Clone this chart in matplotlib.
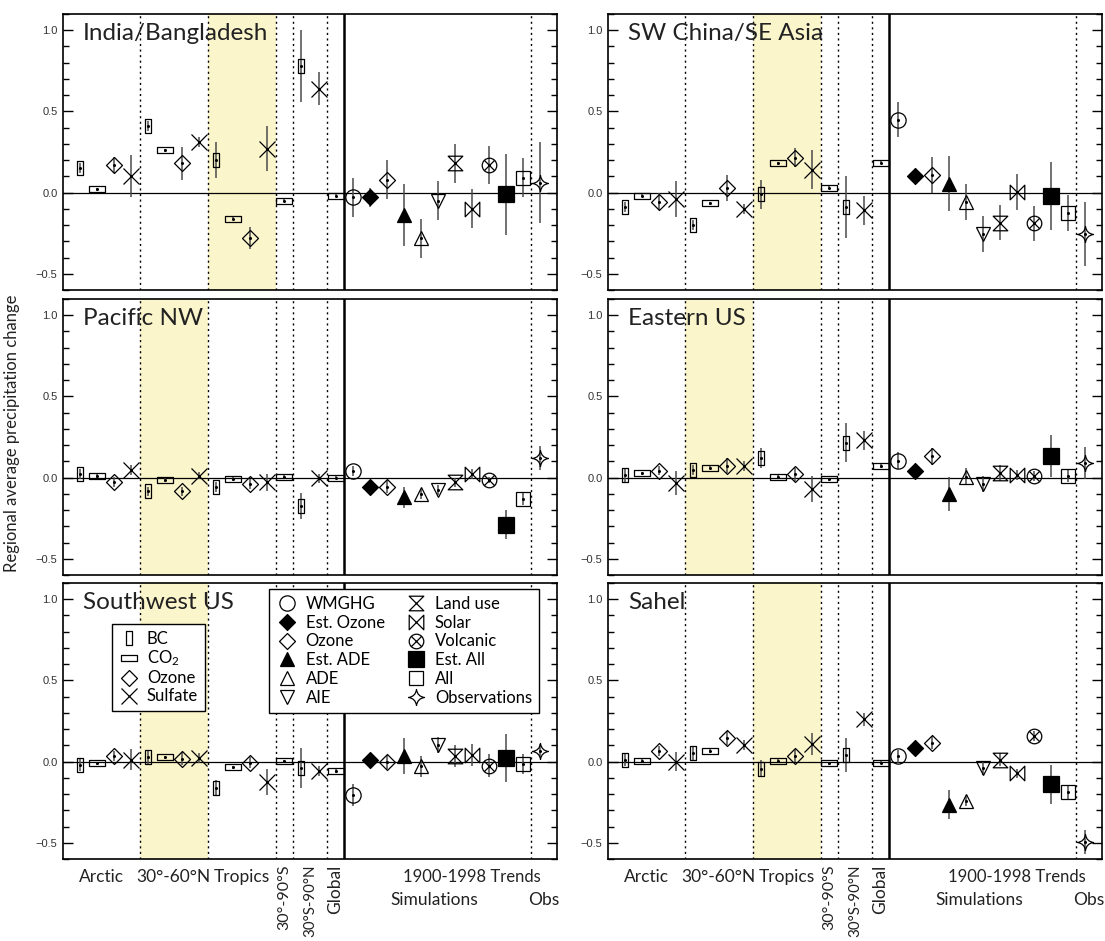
import numpy as np
import matplotlib
matplotlib.use('Agg')
import matplotlib.pyplot as plt
from matplotlib.path import Path
from matplotlib.lines import Line2D
from matplotlib.ticker import MultipleLocator, FixedLocator

plt.rcParams['font.family'] = ['Lato', 'DejaVu Sans']
plt.rcParams['mathtext.fontset'] = 'custom'
plt.rcParams['mathtext.rm'] = 'Lato'
plt.rcParams['mathtext.it'] = 'Lato:italic'

# what sits in each of the 28 slots of a panel
kinds = ['BC', 'CO2', 'Ozone', 'Sulfate'] * 3 + ['CO2', 'BC', 'Sulfate', 'CO2',
         'WMGHG', 'Est. Ozone', 'Ozone', 'Est. ADE', 'ADE', 'AIE',
         'Land use', 'Solar', 'Volcanic', 'Est. All', 'All', 'Observations']

# values (mean, half length of the bar)
india_val = [0.15, 0.02, 0.17, 0.10, 0.41, 0.26, 0.18, 0.31, 0.20, -0.16, -0.28, 0.27, -0.05, 0.78,
             0.64, -0.02, -0.03, -0.03, 0.08, -0.14, -0.28, -0.05, 0.18, -0.10, 0.17, -0.01, 0.09, 0.06]
india_err = [0.03, 0.01, 0.05, 0.13, 0.03, 0.01, 0.10, 0.03, 0.11, 0.01, 0.07, 0.14, 0.01, 0.22,
             0.10, 0.01, 0.12, 0.06, 0.12, 0.19, 0.12, 0.12, 0.12, 0.12, 0.12, 0.25, 0.12, 0.25]

swchina_val = [-0.09, -0.02, -0.055, -0.04, -0.20, -0.065, 0.03, -0.10, -0.01, 0.18, 0.215, 0.14, 0.03, -0.09,
               -0.11, 0.185, 0.45, 0.105, 0.11, 0.055, -0.06, -0.255, -0.185, 0.005, -0.19, -0.02, -0.125, -0.255]
swchina_err = [0.03, 0.01, 0.05, 0.11, 0.03, 0.01, 0.08, 0.03, 0.09, 0.01, 0.06, 0.12, 0.01, 0.19,
               0.09, 0.01, 0.11, 0.04, 0.11, 0.17, 0.11, 0.11, 0.11, 0.11, 0.11, 0.21, 0.11, 0.195]

pacnw_val = [0.02, 0.01, -0.025, 0.045, -0.085, -0.015, -0.085, 0.012, -0.06, -0.008, -0.04, -0.03, 0.005, -0.175,
             -0.005, 0.0, 0.04, -0.06, -0.055, -0.12, -0.10, -0.075, -0.03, 0.02, -0.015, -0.29, -0.13, 0.12]
pacnw_err = [0.03, 0.01, 0.03, 0.03, 0.03, 0.01, 0.03, 0.02, 0.03, 0.01, 0.03, 0.05, 0.01, 0.08,
             0.03, 0.01, 0.03, 0.02, 0.04, 0.065, 0.03, 0.03, 0.03, 0.03, 0.02, 0.09, 0.04, 0.075]

eastus_val = [0.015, 0.027, 0.043, -0.035, 0.047, 0.06, 0.074, 0.072, 0.12, 0.006, 0.022, -0.07, -0.01, 0.215,
              0.23, 0.072, 0.105, 0.043, 0.13, -0.10, 0.006, -0.04, 0.027, 0.018, 0.008, 0.135, 0.01, 0.09]
eastus_err = [0.04, 0.01, 0.03, 0.075, 0.03, 0.01, 0.045, 0.03, 0.06, 0.01, 0.04, 0.078, 0.01, 0.12,
              0.06, 0.01, 0.05, 0.02, 0.055, 0.105, 0.05, 0.05, 0.05, 0.03, 0.03, 0.13, 0.04, 0.098]

swus_val = [-0.018, -0.01, 0.035, 0.012, 0.027, 0.027, 0.017, 0.02, -0.165, -0.035, -0.006, -0.125, 0.002, -0.04,
            -0.06, -0.058, -0.205, 0.008, -0.002, 0.035, -0.028, 0.10, 0.035, 0.04, -0.025, 0.022, -0.015, 0.068]
swus_err = [0.04, 0.01, 0.03, 0.065, 0.04, 0.01, 0.04, 0.03, 0.05, 0.01, 0.035, 0.08, 0.01, 0.125,
            0.03, 0.01, 0.07, 0.02, 0.045, 0.11, 0.065, 0.05, 0.07, 0.07, 0.07, 0.15, 0.06, 0.04]

sahel_val = [0.012, 0.006, 0.065, 0.0, 0.05, 0.065, 0.145, 0.10, -0.043, 0.006, 0.035, 0.108, -0.01, 0.043,
             0.26, -0.006, 0.033, 0.082, 0.116, -0.265, -0.245, -0.04, 0.01, -0.073, 0.157, -0.14, -0.19, -0.495]
sahel_err = [0.04, 0.01, 0.03, 0.06, 0.04, 0.01, 0.045, 0.03, 0.05, 0.01, 0.04, 0.07, 0.01, 0.105,
             0.04, 0.01, 0.04, 0.02, 0.04, 0.09, 0.03, 0.04, 0.04, 0.03, 0.03, 0.12, 0.04, 0.075]

region_names = ['India/Bangladesh', 'SW China/SE Asia', 'Pacific NW', 'Eastern US', 'Southwest US', 'Sahel']
region_vals = [india_val, swchina_val, pacnw_val, eastus_val, swus_val, sahel_val]
region_errs = [india_err, swchina_err, pacnw_err, eastus_err, swus_err, sahel_err]
shaded_band = ['Tropics', 'Tropics', '30-60N', '30-60N', '30-60N', 'Tropics']

legend1_labels = ['BC', 'CO$_2$', 'Ozone', 'Sulfate']
legend1_kinds = ['BC', 'CO2', 'Ozone', 'Sulfate']
legend2_kinds = ['WMGHG', 'Est. Ozone', 'Ozone', 'Est. ADE', 'ADE', 'AIE',
                 'Land use', 'Solar', 'Volcanic', 'Est. All', 'All', 'Observations']


# marker shapes
def closed(verts):
    return Path(verts + [verts[0]], [Path.MOVETO] + [Path.LINETO] * (len(verts) - 1) + [Path.CLOSEPOLY])


bc_m = closed([(-0.25, -0.5), (0.25, -0.5), (0.25, 0.5), (-0.25, 0.5)])
co2_m = closed([(-0.5, -0.2), (0.5, -0.2), (0.5, 0.2), (-0.5, 0.2)])
dia_m = closed([(0, -0.5), (0.5, 0), (0, 0.5), (-0.5, 0)])
hour_m = closed([(-0.5, 0.5), (0.5, 0.5), (-0.5, -0.5), (0.5, -0.5)])
bow_m = closed([(-0.5, 0.5), (-0.5, -0.5), (0.5, 0.5), (0.5, -0.5)])
volc_m = Path.make_compound_path(Path.unit_circle(),
                                 Path([(-0.707, -0.707), (0.707, 0.707)], [Path.MOVETO, Path.LINETO]),
                                 Path([(-0.707, 0.707), (0.707, -0.707)], [Path.MOVETO, Path.LINETO]))
c = 0.06
star_m = Path([(0, 0.5), (c, c), (0.5, 0), (c, -c), (0, -0.5), (-c, -c), (-0.5, 0), (-c, c), (0, 0.5), (0, 0.5)],
              [Path.MOVETO] + [Path.CURVE3] * 8 + [Path.CLOSEPOLY])

styles = {
    'BC': dict(marker=bc_m, ms=9.5, mfc='none'),
    'CO2': dict(marker=co2_m, ms=11, mfc='none'),
    'Ozone': dict(marker=dia_m, ms=11.5, mfc='none'),
    'Sulfate': dict(marker='x', ms=11, mfc='none'),
    'WMGHG': dict(marker='o', ms=11, mfc='none'),
    'Est. Ozone': dict(marker=dia_m, ms=11.5, mfc='k'),
    'Est. ADE': dict(marker='^', ms=10.5, mfc='k'),
    'ADE': dict(marker='^', ms=10.5, mfc='none'),
    'AIE': dict(marker='v', ms=10.5, mfc='none'),
    'Land use': dict(marker=hour_m, ms=10.5, mfc='none'),
    'Solar': dict(marker=bow_m, ms=10.5, mfc='none'),
    'Volcanic': dict(marker=volc_m, ms=10.5, mfc='none'),
    'Est. All': dict(marker='s', ms=11, mfc='k'),
    'All': dict(marker='s', ms=10.5, mfc='none'),
    'Observations': dict(marker=star_m, ms=11.5, mfc='none'),
}

bands = {'30-60N': (4.5, 8.5), 'Tropics': (8.5, 12.5)}
shade = '#fbf5cb'
xs = np.arange(1, len(kinds) + 1)

fig = plt.figure(figsize=(11.05, 9.41), dpi=100)
W, H = 1105.0, 941.0
col_left = [63, 608]
row_top = [14, 299, 583]
axes = []
for i in range(6):
    r, cidx = divmod(i, 2)
    ax = fig.add_axes([col_left[cidx] / W, 1 - (row_top[r] + 276) / H, 494 / W, 276 / H])
    axes.append(ax)

for i, ax in enumerate(axes):
    vals = np.array(region_vals[i])
    errs = np.array(region_errs[i])
    lo, hi = bands[shaded_band[i]]
    ax.axvspan(lo, hi, color=shade, lw=0, zorder=0)
    for xv in [4.5, 8.5, 12.5, 13.5, 15.5, 27.5]:
        ax.axvline(xv, color='k', lw=1.0, ls=(0, (1.5, 2.5)), zorder=1)
    ax.axvline(16.5, color='k', lw=1.8, zorder=1)
    ax.axhline(0, color='k', lw=0.9, zorder=1)

    ax.vlines(xs, vals - errs, vals + errs, color='#4a4a4a', lw=1.1, zorder=2)
    for k in styles:
        mask = np.array([kk == k for kk in kinds])
        st = styles[k]
        ax.plot(xs[mask], vals[mask], ls='none', marker=st['marker'], ms=st['ms'],
                mfc=st['mfc'], mec='k', mew=0.9, zorder=3)
    ax.plot(xs, vals, ls='none', marker='o', ms=1.2, color='k', zorder=4)

    ax.set_xlim(0, 29)
    ax.set_ylim(-0.6, 1.1)
    ax.set_xticks([])
    ax.yaxis.set_major_locator(FixedLocator([-0.5, 0.0, 0.5, 1.0]))
    ax.yaxis.set_minor_locator(MultipleLocator(0.1))
    ax.set_yticklabels(['\u22120.5', '0.0', '0.5', '1.0'], family=['Liberation Sans', 'DejaVu Sans'],
                       fontsize=8, color='#333333')
    ax.tick_params(axis='y', which='major', direction='in', length=7, width=1, left=True, right=True, pad=4)
    ax.tick_params(axis='y', which='minor', direction='in', length=4, width=1, left=True, right=True)
    for sp in ax.spines.values():
        sp.set_linewidth(1.2)

    ax.text(0.04, 0.905, region_names[i], transform=ax.transAxes, fontsize=17.5,
            color='#222222', va='baseline', ha='left', zorder=6)

# category labels under the bottom row
for ax in axes[4:]:
    tr = ax.get_xaxis_transform()
    for xv, lab in [(2.25, 'Arctic'), (6.5, '30°-60°N'), (10.5, 'Tropics')]:
        ax.text(xv, -0.035, lab, transform=tr, ha='center', va='top', fontsize=12.5, color='#222222')
    for xv, lab, fs in [(13.0, '30°-90°S', 11.5), (14.5, '30°S-90°N', 10.8), (16.0, 'Global', 12.5)]:
        ax.text(xv, -0.02, lab, transform=tr, ha='center', va='top', rotation=90, fontsize=fs,
                color='#222222')
    ax.text(24.0, -0.035, '1900-1998 Trends', transform=tr, ha='center', va='top', fontsize=12,
            color='#222222')
    ax.text(21.8, -0.12, 'Simulations', transform=tr, ha='center', va='top', fontsize=12.5, color='#222222')
    ax.text(28.2, -0.12, 'Obs', transform=tr, ha='center', va='top', fontsize=12.5, color='#222222')


def handle(k):
    st = styles[k]
    return Line2D([], [], ls='none', marker=st['marker'], ms=st['ms'], mfc=st['mfc'], mec='k', mew=0.9)


ax = axes[4]
leg1 = ax.legend([handle(k) for k in legend1_kinds], legend1_labels, loc='upper left',
                 bbox_to_anchor=(0.099, 0.851), borderaxespad=0, fontsize=12, frameon=True,
                 fancybox=False, framealpha=1, edgecolor='k', handlelength=1.2, handletextpad=0.5,
                 labelspacing=0.12, borderpad=0.4)
leg1.get_frame().set_linewidth(1.0)
ax.add_artist(leg1)
leg2 = ax.legend([handle(k) for k in legend2_kinds], legend2_kinds, loc='upper left', ncol=2,
                 bbox_to_anchor=(0.417, 0.978), borderaxespad=0, fontsize=12, frameon=True,
                 fancybox=False, framealpha=1, edgecolor='k', handlelength=1.4, handletextpad=0.4,
                 labelspacing=0.17, borderpad=0.4, columnspacing=1.2)
leg2.get_frame().set_linewidth(1.0)

fig.text(0.011, 0.54, 'Regional average precipitation change', rotation=90, ha='center', va='center',
         fontsize=12, color='#222222')

fig.savefig('out.png', dpi=100)
